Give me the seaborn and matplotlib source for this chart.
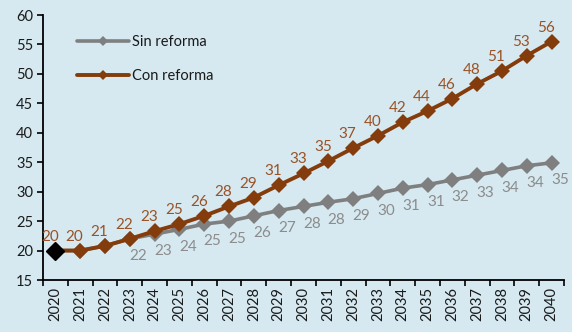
import numpy as np
import pandas as pd
import matplotlib
matplotlib.use("Agg")
import matplotlib.pyplot as plt
import seaborn as sns

# Data
years = [str(y) for y in range(2020, 2041)]
sin_reforma = [20.0, 20.0, 20.8, 22.0, 22.8, 23.6, 24.5, 25.0, 25.9, 26.8, 27.5,
               28.2, 28.8, 29.7, 30.6, 31.2, 32.0, 32.8, 33.6, 34.4, 34.9]
con_reforma = [20.0, 20.0, 20.8, 22.0, 23.3, 24.5, 25.9, 27.5, 29.0, 31.1, 33.1,
               35.2, 37.4, 39.5, 41.8, 43.7, 45.8, 48.3, 50.5, 53.1, 55.5]
y_ticks = [15, 20, 25, 30, 35, 40, 45, 50, 55, 60]

BG = "#D6E9F0"
C_CON = "#843C0C"
C_SIN = "#7F7F7F"
C_CON_LBL = "#9A5226"
C_SIN_LBL = "#8C8C8C"

sns.set_theme(style="ticks")
plt.rcParams["font.family"] = ["Lato", "DejaVu Sans"]

idx = np.arange(len(years))
df = pd.DataFrame({"i": idx, "sin": sin_reforma, "con": con_reforma})

fig = plt.figure(figsize=(5.72, 3.32), dpi=100, facecolor=BG)
ax = fig.add_axes([0.0752, 0.1566, 0.9108, 0.7982])
ax.set_facecolor(BG)

sns.lineplot(data=df, x="i", y="sin", ax=ax, color=C_SIN, linewidth=2.6,
             marker="D", markersize=8, markeredgewidth=0, label="Sin reforma")
sns.lineplot(data=df, x="i", y="con", ax=ax, color=C_CON, linewidth=2.8,
             marker="D", markersize=8, markeredgewidth=0, label="Con reforma")
# starting year highlighted in black
ax.plot(df["i"].iloc[:1], df["con"].iloc[:1], marker="D", markersize=9,
        color="black", linestyle="none", zorder=5)


def fmt(v):
    return str(int(np.floor(v + 0.5)))


for i, v in zip(idx, con_reforma):
    ax.annotate(fmt(v), (i, v), xytext=(-4, 5), textcoords="offset points",
                ha="center", va="bottom", fontsize=11, color=C_CON_LBL)
for i, v in zip(idx[3:], sin_reforma[3:]):
    ax.annotate(fmt(v), (i, v), xytext=(6, -7.5), textcoords="offset points",
                ha="center", va="top", fontsize=11, color=C_SIN_LBL)

ax.set_xlim(-0.5, len(years) - 0.5)
ax.set_ylim(15, 60)
ax.set_yticks(y_ticks)
ax.set_yticklabels([str(t) for t in y_ticks], fontsize=10.5, color="#1a1a1a")

ax.set_xticks(np.arange(-0.5, len(years), 1.0))
ax.set_xticklabels([])
ax.set_xticks(idx, minor=True)
ax.set_xticklabels(years, minor=True, rotation=90, fontsize=10.5, color="#1a1a1a")
ax.tick_params(axis="x", which="major", length=4, width=1.2, color="black", direction="out")
ax.tick_params(axis="x", which="minor", length=0, pad=5)
ax.tick_params(axis="y", length=4, width=1.2, color="black", direction="out", pad=3)

ax.set_xlabel("")
ax.set_ylabel("")
sns.despine(ax=ax)
for s in ("left", "bottom"):
    ax.spines[s].set_color("black")
    ax.spines[s].set_linewidth(1.3)

leg = ax.legend(loc="upper left", bbox_to_anchor=(0.04, 0.975), frameon=False,
                fontsize=10.5, handlelength=3.6, handletextpad=0.2, labelspacing=1.4,
                markerscale=0.6)
for t in leg.get_texts():
    t.set_color("#1a1a1a")

fig.savefig("out.png", dpi=100, facecolor=BG)
